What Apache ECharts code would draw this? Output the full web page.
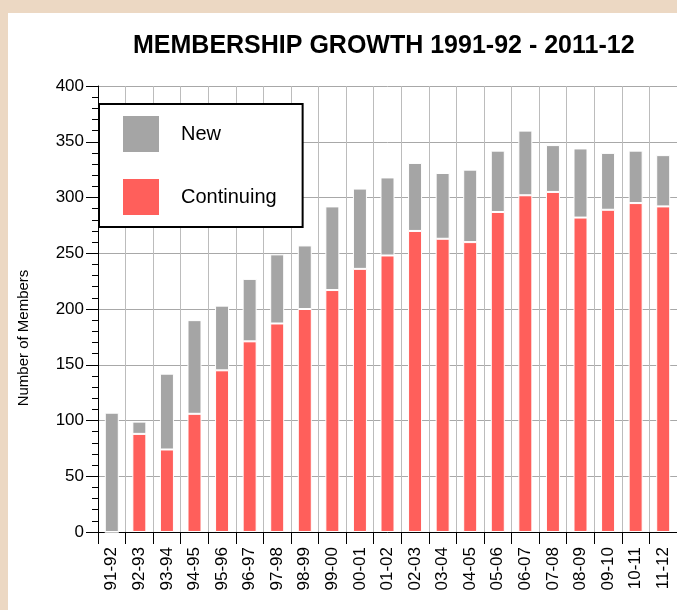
<!DOCTYPE html>
<html>
<head>
<meta charset="utf-8">
<script src="https://cdn.jsdelivr.net/npm/echarts@6/dist/echarts.min.js"></script>
<style>
  html, body { margin: 0; padding: 0; background: #ecd8c3; width: 677px; height: 610px; overflow: hidden; }
  #chart { position: absolute; left: 8px; top: 13px; width: 669px; height: 597px; background: #ffffff; }
</style>
</head>
<body>
<div id="chart"></div>
<script>
const titleText = 'MEMBERSHIP GROWTH 1991-92 - 2011-12';
const yAxisName = 'Number of Members';
const categories = ['91-92','92-93','93-94','94-95','95-96','96-97','97-98','98-99','99-00','00-01','01-02','02-03','03-04','04-05','05-06','06-07','07-08','08-09','09-10','10-11','11-12'];
const continuing = [0, 88, 74, 106, 145, 171, 187, 200, 217, 236, 248, 270, 263, 260, 287, 302, 305, 282, 289, 295, 292];
const newMembers = [107, 11, 68, 84, 58, 56, 62, 57, 75, 72, 70, 61, 59, 65, 55, 58, 42, 62, 51, 47, 46];
const yTicks = { min: 0, max: 400, interval: 50 };

const FONT = "'Liberation Sans', Arial, sans-serif";
const chart = echarts.init(document.getElementById('chart'), null, { renderer: 'canvas' });
chart.setOption({
  backgroundColor: '#ffffff',
  animation: false,
  title: {
    text: titleText,
    left: 125,
    top: 21,
    padding: 0,
    textStyle: { fontFamily: FONT, fontSize: 25, fontWeight: 'bold', color: '#000' }
  },
  legend: {
    orient: 'vertical',
    left: 91,
    top: 91,
    data: ['New', 'Continuing'],
    icon: 'rect',
    itemWidth: 38,
    itemHeight: 38,
    itemGap: 23,
    padding: [10, 26, 10, 22],
    borderColor: '#000',
    borderWidth: 2,
    borderRadius: 0,
    backgroundColor: '#fff',
    selectedMode: false,
    textStyle: { fontFamily: FONT, fontSize: 20, color: '#000', padding: [0, 0, 0, 16] }
  },
  grid: { left: 77, right: -3, top: 73, bottom: 78, containLabel: false },
  xAxis: {
    type: 'category',
    data: categories,
    boundaryGap: true,
    axisLine: { show: true, lineStyle: { color: '#000', width: 1 } },
    axisTick: { show: true, length: 12, lineStyle: { color: '#000' }, interval: 0 },
    axisLabel: { interval: 0, rotate: 90, margin: 15, fontFamily: FONT, fontSize: 17, color: '#000' },
    splitLine: { show: true, interval: 0, lineStyle: { color: '#bcbcbc', width: 1 } }
  },
  yAxis: {
    type: 'value',
    min: yTicks.min,
    max: yTicks.max,
    interval: yTicks.interval,
    name: yAxisName,
    nameLocation: 'middle',
    nameGap: 67,
    nameRotate: 90,
    nameTextStyle: { fontFamily: FONT, fontSize: 15, color: '#000', padding: [0, 58, 0, 0] },
    axisLine: { show: true, lineStyle: { color: '#000', width: 1 } },
    axisTick: { show: true, length: 12, lineStyle: { color: '#000' } },
    minorTick: { show: true, splitNumber: 5, length: 6, lineStyle: { color: '#000' } },
    axisLabel: { margin: 14, fontFamily: FONT, fontSize: 17, color: '#000' },
    splitLine: { show: true, lineStyle: { color: '#a8a8a8', width: 1 } }
  },
  series: [
    {
      name: 'Continuing',
      type: 'bar',
      stack: 'total',
      data: continuing,
      barWidth: 14,
      itemStyle: { color: '#ff5f5b', borderColor: '#ffffff', borderWidth: 1 }
    },
    {
      name: 'New',
      type: 'bar',
      stack: 'total',
      data: newMembers,
      barWidth: 14,
      itemStyle: { color: '#a5a5a5', borderColor: '#ffffff', borderWidth: 1 }
    }
  ]
});
</script>
</body>
</html>
